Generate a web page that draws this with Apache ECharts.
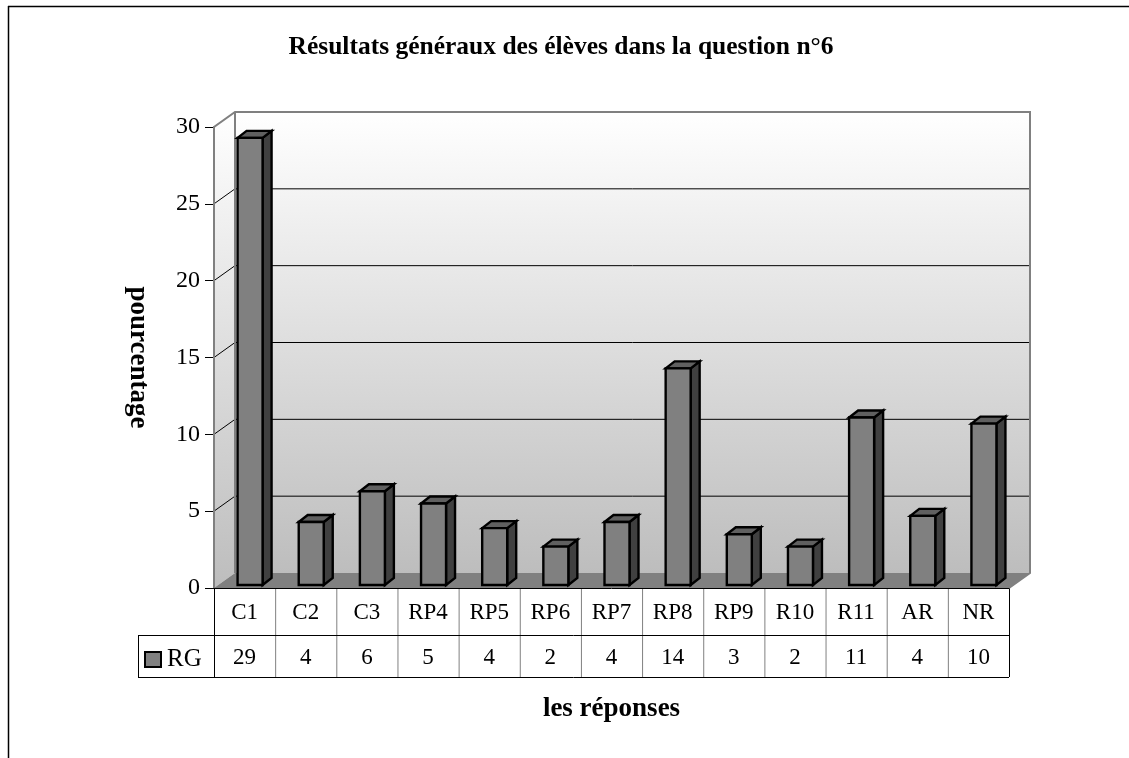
<!DOCTYPE html>
<html><head><meta charset="utf-8">
<style>html,body{margin:0;padding:0;background:#fff}#c{width:1129px;height:758px}</style>
<script src="https://cdn.jsdelivr.net/npm/echarts@6/dist/echarts.min.js"></script></head>
<body><div id="c"></div>
<script>
const categories=['C1','C2','C3','RP4','RP5','RP6','RP7','RP8','RP9','R10','R11','AR','NR'];
const barValues=[29.1,4.1,6.1,5.3,3.7,2.5,4.1,14.1,3.3,2.5,10.9,4.5,10.5];
const tableLabels=['29','4','6','5','4','2','4','14','3','2','11','4','10'];
const yTicks=[0,5,10,15,20,25,30];
const titleText='Résultats généraux des élèves dans la question n°6';
const seriesName='RG', xName='les réponses', yName='pourcentage';

const L=214,R=1009,T=127,B=588,DX=21,DY=-15;
const serif='"Liberation Serif","Times New Roman",serif';
const chart=echarts.init(document.getElementById('c'),null,{renderer:'canvas'});

function wallItem(params,api){
  const band=api.size([1,0])[0];
  const lo=api.coord([0,0]),hi=api.coord([12,30]);
  const x0=lo[0]-band/2,x1=hi[0]+band/2,yb=lo[1],yt=hi[1];
  const grad=new echarts.graphic.LinearGradient(0,0,0,1,[{offset:0,color:'#ffffff'},{offset:1,color:'#bdbdbd'}]);
  const ch=[];
  ch.push({type:'polygon',shape:{points:[[x0+DX,yt+DY],[x1+DX,yt+DY],[x1+DX,yb+DY],[x0+DX,yb+DY]]},style:{fill:grad}});
  ch.push({type:'polygon',shape:{points:[[x0,yt],[x0+DX,yt+DY],[x0+DX,yb+DY],[x0,yb]]},style:{fill:grad}});
  ch.push({type:'polygon',shape:{points:[[x0,yb],[x0+DX,yb+DY],[x1+DX,yb+DY],[x1,yb]]},style:{fill:'#808080'}});
  yTicks.slice(1,-1).forEach(v=>{
    const y=api.coord([0,v])[1];
    ch.push({type:'polyline',shape:{points:[[x0,y],[x0+DX,y+DY],[x1+DX,y+DY]]},style:{fill:null,stroke:'#000',lineWidth:1}});
  });
  ch.push({type:'polyline',shape:{points:[[x0,yb],[x0,yt],[x0+DX,yt+DY],[x1+DX,yt+DY],[x1+DX,yb+DY],[x1,yb]]},style:{fill:null,stroke:'#808080',lineWidth:2}});
  ch.push({type:'line',shape:{x1:x0+DX,y1:yt+DY,x2:x0+DX,y2:yb+DY},style:{stroke:'#808080',lineWidth:2}});
  return {type:'group',children:ch};
}
function barItem(params,api){
  const i=api.value(0),v=api.value(1);
  const c=api.coord([i,0]),top=api.coord([i,v]);
  const w=25,dx=9,dy=-7,ox=c[0]-7,oy=-3;
  const xl=ox,xr=ox+w,yb=c[1]+oy,yt=top[1]+oy;
  const st=(f)=>({fill:f,stroke:'#000',lineWidth:2.4,lineJoin:'miter'});
  return {type:'group',children:[
    {type:'polygon',shape:{points:[[xr,yb],[xr+dx,yb+dy],[xr+dx,yt+dy],[xr,yt]]},style:st('#404040')},
    {type:'polygon',shape:{points:[[xl,yt],[xl+dx,yt+dy],[xr+dx,yt+dy],[xr,yt]]},style:st('#606060')},
    {type:'rect',shape:{x:xl,y:yt,width:w,height:yb-yt},style:st('#808080')}
  ]};
}
const rowMid=635,rowEnd=677,legL=138;
const tbl=[];
const lineG=(x1,y1,x2,y2,c)=>({type:'line',shape:{x1,y1,x2,y2},style:{stroke:c||'#000',lineWidth:1}});
categories.forEach((_,i)=>{ if(i>0){const x=L+(R-L)*i/13+0.5; tbl.push(lineG(x,B,x,rowEnd,'#808080'));} });
tbl.push(lineG(R+.5,B,R+.5,rowEnd,'#000'));
tbl.push(lineG(L+.5,B,L+.5,rowEnd));
tbl.push(lineG(legL,rowMid+.5,R,rowMid+.5));
tbl.push(lineG(legL,rowEnd+.5,R,rowEnd+.5));
tbl.push(lineG(legL+.5,rowMid,legL+.5,rowEnd));
tbl.push({type:'line',shape:{x1:8.5,y1:6,x2:8.5,y2:758},style:{stroke:'#000',lineWidth:1.5}});
tbl.push({type:'line',shape:{x1:8,y1:6.5,x2:1129,y2:6.5},style:{stroke:'#000',lineWidth:1.5}});
tbl.push({type:'rect',shape:{x:145,y:652,width:16,height:15},style:{fill:'#808080',stroke:'#000',lineWidth:2}});
tbl.push({type:'text',style:{x:167,y:659,text:seriesName,font:'25px '+serif,fill:'#000',textVerticalAlign:'middle'}});

chart.setOption({
  animation:false,
  backgroundColor:'#fff',
  title:{text:titleText,left:556,top:29,textAlign:'center',textStyle:{fontFamily:serif,fontWeight:'bold',fontSize:25.5,color:'#000'}},
  grid:{left:L,top:T,width:R-L,height:B-T,containLabel:false},
  graphic:{elements:tbl},
  xAxis:[
    {type:'category',data:categories,position:'bottom',axisLine:{show:true,lineStyle:{color:'#000'}},axisTick:{show:false},
     axisLabel:{interval:0,margin:13,fontFamily:serif,fontSize:23,color:'#000'},splitLine:{show:false},
     name:xName,nameLocation:'middle',nameGap:108,nameTextStyle:{fontFamily:serif,fontWeight:'bold',fontSize:27,color:'#000'}},
    {type:'category',data:tableLabels,position:'bottom',offset:47,axisLine:{show:false},axisTick:{show:false},
     axisLabel:{interval:0,margin:11,fontFamily:serif,fontSize:23,color:'#000'},splitLine:{show:false}}
  ],
  yAxis:{type:'value',min:0,max:30,interval:5,
    axisLine:{show:true,lineStyle:{color:'#808080',width:2}},axisTick:{show:true,length:9,inside:false,lineStyle:{color:'#000'}},
    axisLabel:{margin:14,fontFamily:serif,fontSize:24,color:'#000',padding:[4,0,0,0],formatter:v=>yTicks.includes(v)?String(v):''},
    splitLine:{show:false},
    name:yName,nameLocation:'middle',nameGap:63,nameRotate:-90,nameTextStyle:{fontFamily:serif,fontWeight:'bold',fontSize:27,color:'#000'}},
  series:[
    {type:'custom',name:'walls',renderItem:wallItem,data:[[0,0]],encode:{x:0,y:1},silent:true,z:1,clip:false},
    {type:'custom',name:seriesName,renderItem:barItem,data:barValues.map((v,i)=>[i,v]),encode:{x:0,y:1},z:3,clip:false}
  ]
});
</script></body></html>
